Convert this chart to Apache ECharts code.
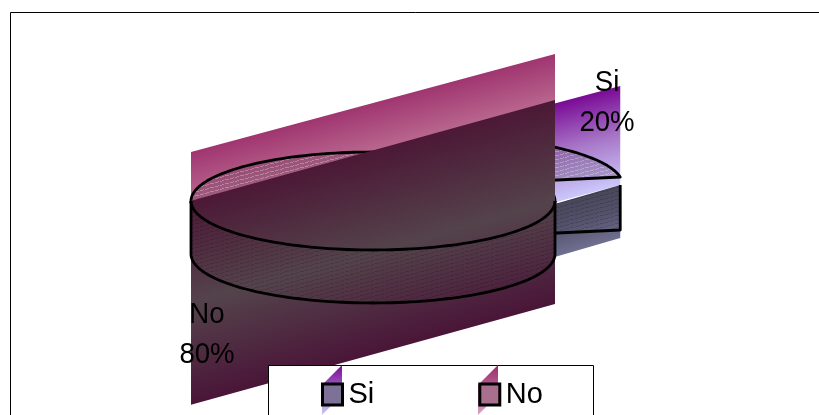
<!DOCTYPE html>
<html>
<head>
<meta charset="utf-8">
<style>
html,body{margin:0;padding:0;background:#fff}
#chart{width:819px;height:415px}
</style>
</head>
<body>
<div id="chart"></div>
<script src="https://cdn.jsdelivr.net/npm/echarts@6/dist/echarts.min.js"></script>
<script>
// chart data
var categories = ['Si', 'No'];
var values = [20, 80];

// layout of the 3d pie
var pie = {cx: 373, cy: 201, rx: 182, ry: 49, depth: 53, startAngle: 8};
var fontName = '"Liberation Sans", Arial, sans-serif';

// per slice styling, the sheared gradients are what makes this chart look odd
var looks = {
    Si: {
        dx: 68, dy: -15.5,
        light: {rightTop: 86, h: 99, slope: -0.266, stops: ['#7a0a96', '#a878c8', '#cbc8fb']},
        dark: {rightTop: 185, h: 53, slope: -0.29, stops: ['#484659', '#55536d', '#6f6f90']},
        label: {x: 607, y: 103}
    },
    No: {
        dx: 0, dy: 0,
        light: {rightTop: 54, h: 98, slope: -0.269, stops: ['#a03570', '#b9688f', '#d9a3c2']},
        dark: {rightTop: 100, h: 204, slope: -0.277, stops: ['#4c1836', '#54434b', '#4a1538']},
        label: {x: 207, y: 335}
    }
};

// fine slanted hatch, echarts takes a canvas as pattern
function hatch(color) {
    var c = document.createElement('canvas');
    c.width = 15;
    c.height = 4;
    var g = c.getContext('2d');
    g.fillStyle = color;
    for (var x = 0; x < 15; x++) {
        if (x % 5 === 4) continue;
        g.fillRect(x, 3 - Math.floor(x * 4 / 15), 1, 1);
    }
    return {image: c, repeat: 'repeat'};
}
var hatchLight = hatch('rgba(255,255,255,0.28)');
var hatchDark = hatch('rgba(0,0,0,0.15)');

function rim(cx, cy, a) {
    var r = a * Math.PI / 180;
    return [cx + pie.rx * Math.sin(r), cy - pie.ry * Math.cos(r)];
}

function arcPoints(cx, cy, a0, a1) {
    var pts = [];
    var n = Math.max(2, Math.ceil(Math.abs(a1 - a0) / 2));
    for (var i = 0; i <= n; i++) {
        pts.push(rim(cx, cy, a0 + (a1 - a0) * i / n));
    }
    return pts;
}

function band(x0, x1, b) {
    var yLeft = b.rightTop + (x0 - x1) * b.slope;
    var norm = Math.sqrt(1 + b.slope * b.slope);
    var dist = b.h / norm;
    return {
        type: 'polygon',
        shape: {points: [[x0, yLeft], [x1, b.rightTop], [x1, b.rightTop + b.h], [x0, yLeft + b.h]]},
        style: {
            fill: new echarts.graphic.LinearGradient(
                x0, yLeft, x0 - b.slope / norm * dist, yLeft + dist / norm,
                [{offset: 0, color: b.stops[0]}, {offset: 0.5, color: b.stops[1]}, {offset: 1, color: b.stops[2]}],
                true
            )
        }
    };
}

function shiftDown(pts) {
    return pts.map(function (p) { return [p[0], p[1] + pie.depth]; });
}

function line(pts) {
    return {
        type: 'polyline',
        shape: {points: pts},
        style: {fill: 'none', stroke: '#000', lineWidth: 2.8, lineJoin: 'round'}
    };
}

function sliceAngles(index) {
    var total = values.reduce(function (a, b) { return a + b; }, 0);
    var before = 0;
    for (var i = 0; i < index; i++) before += values[i];
    return [
        pie.startAngle + before / total * 360,
        pie.startAngle + (before + values[index]) / total * 360
    ];
}

function renderSlice(params, api) {
    var name = categories[params.seriesIndex];
    var look = looks[name];
    var value = api.value(0);
    var total = values.reduce(function (a, b) { return a + b; }, 0);
    var ang = sliceAngles(params.seriesIndex);
    var cx = pie.cx + look.dx;
    var cy = pie.cy + look.dy;
    var top = arcPoints(cx, cy, ang[0], ang[1]);
    var sector = [[cx, cy]].concat(top);
    var xs = top.map(function (p) { return p[0]; }).concat(cx);
    var x0 = Math.min.apply(null, xs);
    var x1 = Math.max.apply(null, xs);
    var kids = [];

    kids.push(band(x0, x1, look.light));
    kids.push({type: 'polygon', shape: {points: sector}, style: {fill: 'rgba(70,50,70,0.22)'}});
    kids.push({type: 'polygon', shape: {points: sector}, style: {fill: hatchLight}});
    kids.push({
        type: 'polygon',
        shape: {points: sector},
        style: {fill: 'none', stroke: '#000', lineWidth: 2.8, lineJoin: 'round'}
    });
    kids.push(band(x0, x1, look.dark));

    if (name === 'No') {
        // front wall of the big slice, from one side of the ellipse to the other
        var front = arcPoints(cx, cy, 90, 270);
        var wall = front.concat(shiftDown(front).reverse());
        kids.push({type: 'polygon', shape: {points: wall}, style: {fill: hatchDark}});
        kids.push(line(front));
        kids.push(line([front[0]].concat(shiftDown(front), [front[front.length - 1]])));
    } else {
        // cut face of the small slice
        var tip = top[top.length - 1];
        var cut = [tip, [cx, cy], [cx, cy + pie.depth], [tip[0], tip[1] + pie.depth]];
        kids.push({
            type: 'polygon',
            shape: {points: [[tip[0], look.dark.rightTop], [cx, look.dark.rightTop + (cx - tip[0]) * look.dark.slope], cut[2], cut[3]]},
            style: {fill: hatchDark}
        });
        kids.push(line([[tip[0], look.dark.rightTop], cut[3], cut[2]]));
    }

    kids.push({
        type: 'text',
        z2: 10,
        scaleX: 0.92,
        originX: look.label.x,
        originY: look.label.y,
        style: {
            x: look.label.x,
            y: look.label.y,
            text: name + '\n' + Math.round(value / total * 100) + '%',
            font: '30px ' + fontName,
            fill: '#000',
            align: 'center',
            verticalAlign: 'middle',
            lineHeight: 40
        }
    });
    return {type: 'group', children: kids};
}

function swatch(x, stops) {
    return {
        type: 'polygon',
        z: 3.1,
        shape: {points: [[x + 20, 365], [x, 385], [x, 415], [x + 20, 395]]},
        style: {
            fill: new echarts.graphic.LinearGradient(0, 0, 0, 1, [
                {offset: 0, color: stops[0]},
                {offset: 1, color: stops[1]}
            ])
        }
    };
}

var chart = echarts.init(document.getElementById('chart'), null, {renderer: 'canvas'});
chart.setOption({
    animation: false,
    backgroundColor: '#fff',
    graphic: [
        // chart frame runs off the page on the right and at the bottom
        {type: 'rect', z: 0, shape: {x: 10.5, y: 12.5, width: 900, height: 500},
            style: {fill: 'none', stroke: '#000', lineWidth: 1}},
        {type: 'rect', z: 3, shape: {x: 268.5, y: 365.5, width: 325, height: 80},
            style: {fill: '#fff', stroke: '#000', lineWidth: 1}},
        swatch(322, ['#7a0a96', '#cbc8fb']),
        swatch(478, ['#9a2c6c', '#d9a3c2'])
    ],
    legend: {
        left: 321,
        top: 380,
        padding: 0,
        itemWidth: 20,
        itemHeight: 21,
        itemGap: 104,
        selectedMode: false,
        textStyle: {fontFamily: fontName, fontSize: 29, color: '#000', padding: [0, 0, 0, 1]},
        data: [
            {name: categories[0], icon: 'rect', itemStyle: {color: '#7d7198', borderColor: '#000', borderWidth: 3}},
            {name: categories[1], icon: 'rect', itemStyle: {color: '#a96f8e', borderColor: '#000', borderWidth: 3}}
        ]
    },
    series: categories.map(function (name, i) {
        return {
            type: 'custom',
            name: name,
            coordinateSystem: 'none',
            silent: true,
            renderItem: renderSlice,
            data: [[values[i]]]
        };
    })
});
</script>
</body>
</html>
